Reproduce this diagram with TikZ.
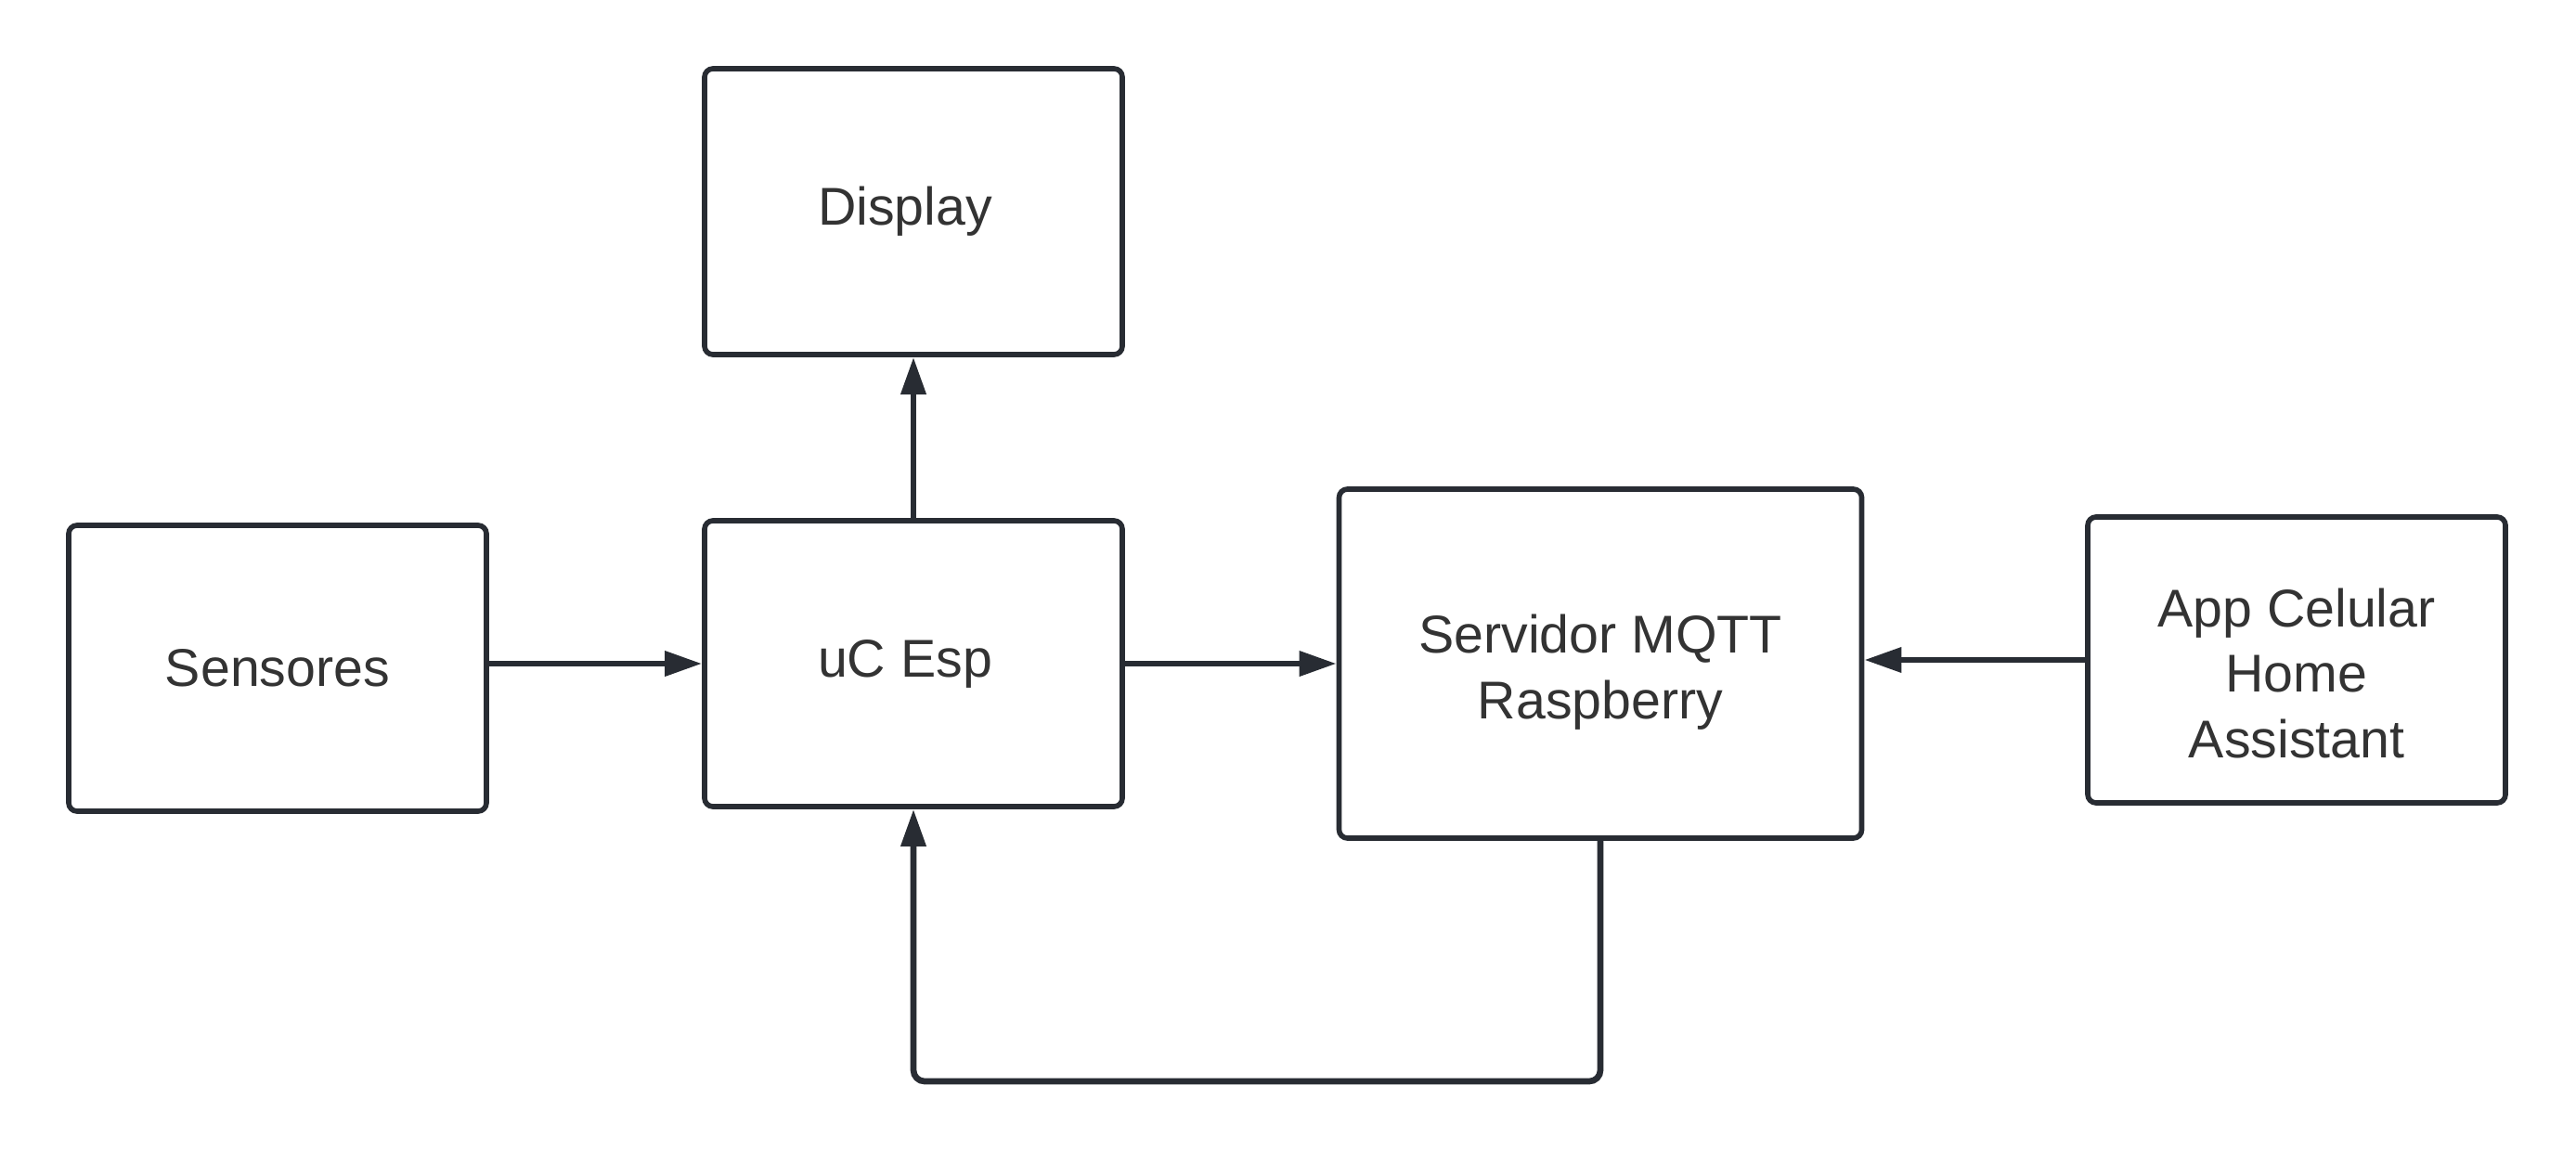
\documentclass[tikz,border=0pt]{standalone}
\usepackage{fontspec}
\setmainfont{Liberation Sans}
\usetikzlibrary{arrows.meta}
\definecolor{ink}{RGB}{40,44,51}
\definecolor{txt}{RGB}{51,51,51}
\tikzset{>={Triangle[length=0.4cm,width=0.26cm]}}
\tikzstyle{block}=[draw=ink,line width=1.6pt,rounded corners=0.09cm,fill=white,
                   minimum width=4.5cm,minimum height=3.08cm,align=center,
                   text=txt,font=\fontsize{16.3}{20}\selectfont]
\tikzstyle{link}=[->,draw=ink,line width=1.9pt]

\begin{document}
\begin{tikzpicture}
  \useasboundingbox (0,0) rectangle (27.75,-12.39);

  % BLOCKS
  \node[block] (disp) at (9.84,-2.28) {Display\hspace{0.18cm}};
  \node[block] (sens) at (2.99,-7.20) {Sensores};
  \node[block] (uc)   at (9.84,-7.15) {uC Esp\hspace{0.18cm}};
  \node[block,minimum width=5.63cm,minimum height=3.76cm,text height=1.30cm]
               (serv) at (17.24,-7.15) {Servidor MQTT\\Raspberry};
  \node[block,text height=2.11cm] (app) at (24.74,-7.11)
               {App Celular\\Home\\Assistant};

  % LINKS
  \draw[link] (sens.east |- uc.west) -- (uc.west);
  \draw[link] (uc.north) -- (disp.south);
  \draw[link] (uc.east) -- (serv.west);
  \draw[link] (app.west) -- (serv.east |- app.west);
  \coordinate (back) at (17.24,-11.65); % return path below the blocks
  \draw[link,rounded corners=0.12cm] (serv.south) -- (back) -| (uc.south);
\end{tikzpicture}
\end{document}
